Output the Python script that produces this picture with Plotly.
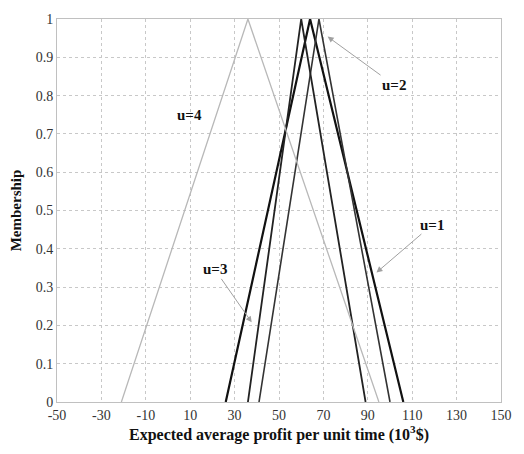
import plotly.graph_objects as go

# Triangular fuzzy numbers (left foot, peak, right foot)
series_names = ["u=1", "u=2", "u=3", "u=4"]
left_feet = [26, 41, 36, -21]
peaks = [64, 68, 60, 36]
right_feet = [106, 100, 89, 95]
membership = [0, 1, 0]

x_ticks = [-50, -30, -10, 10, 30, 50, 70, 90, 110, 130, 150]
y_ticks = [0, 0.1, 0.2, 0.3, 0.4, 0.5, 0.6, 0.7, 0.8, 0.9, 1]
y_tick_text = ["0", "0.1", "0.2", "0.3", "0.4", "0.5", "0.6", "0.7", "0.8", "0.9", "1"]

styles = {
    "u=1": dict(color="#111111", width=2.2),
    "u=2": dict(color="#333333", width=1.6),
    "u=3": dict(color="#222222", width=1.8),
    "u=4": dict(color="#b8b8b8", width=1.3),
}

fig = go.Figure()
for name, a, b, c in zip(series_names, left_feet, peaks, right_feet):
    fig.add_trace(go.Scatter(x=[a, b, c], y=membership, mode="lines",
                             line=styles[name], name=name, showlegend=False))

serif = "Liberation Serif, Times New Roman, serif"
label_font = dict(family=serif, size=15, color="#111")

annotations = [
    dict(x=93.9, y=0.338, ax=56, ay=-48, text="<b>u=1</b>", showarrow=True),
    dict(x=71.9, y=0.954, ax=66, ay=48, text="<b>u=2</b>", showarrow=True),
    dict(x=37.7, y=0.208, ax=-37, ay=-53, text="<b>u=3</b>", showarrow=True),
    dict(x=9.6, y=0.749, text="<b>u=4</b>", showarrow=False),
]
for a in annotations:
    a.update(xref="x", yref="y", font=label_font)
    if a["showarrow"]:
        a.update(arrowhead=2, arrowsize=1.2, arrowwidth=1, arrowcolor="#a0a0a0",
                 axref="pixel", ayref="pixel")
    fig.add_annotation(**a)

fig.update_layout(
    width=524, height=454,
    margin=dict(l=57, r=14, t=12, b=52),
    paper_bgcolor="white", plot_bgcolor="white",
    font=dict(family=serif, size=14, color="#222"),
)
fig.update_xaxes(
    range=[-50, 150], tickvals=x_ticks, ticktext=[str(v) for v in x_ticks],
    showgrid=True, gridcolor="#c8c8c8", griddash="dot", gridwidth=1,
    showline=True, linecolor="#c0c0c0", mirror=True, zeroline=False,
    ticks="", tickfont=dict(family=serif, size=14, color="#333"),
    title=dict(text="<b>Expected average profit per unit time (10<sup>3</sup>$)</b>",
               font=dict(family=serif, size=16, color="#111"), standoff=2),
)
fig.update_yaxes(
    range=[0, 1], tickvals=y_ticks, ticktext=y_tick_text,
    showgrid=True, gridcolor="#c8c8c8", griddash="dot", gridwidth=1,
    showline=True, linecolor="#c0c0c0", mirror=True, zeroline=False,
    ticks="", tickfont=dict(family=serif, size=14, color="#333"),
    title=dict(text="<b>Membership</b>", font=dict(family=serif, size=15, color="#111"),
               standoff=10),
)

fig.write_html(
    "out.html",
    include_plotlyjs=True,
    config={"displayModeBar": False},
    post_script="document.body.style.margin='0';document.body.style.overflow='hidden';",
)
